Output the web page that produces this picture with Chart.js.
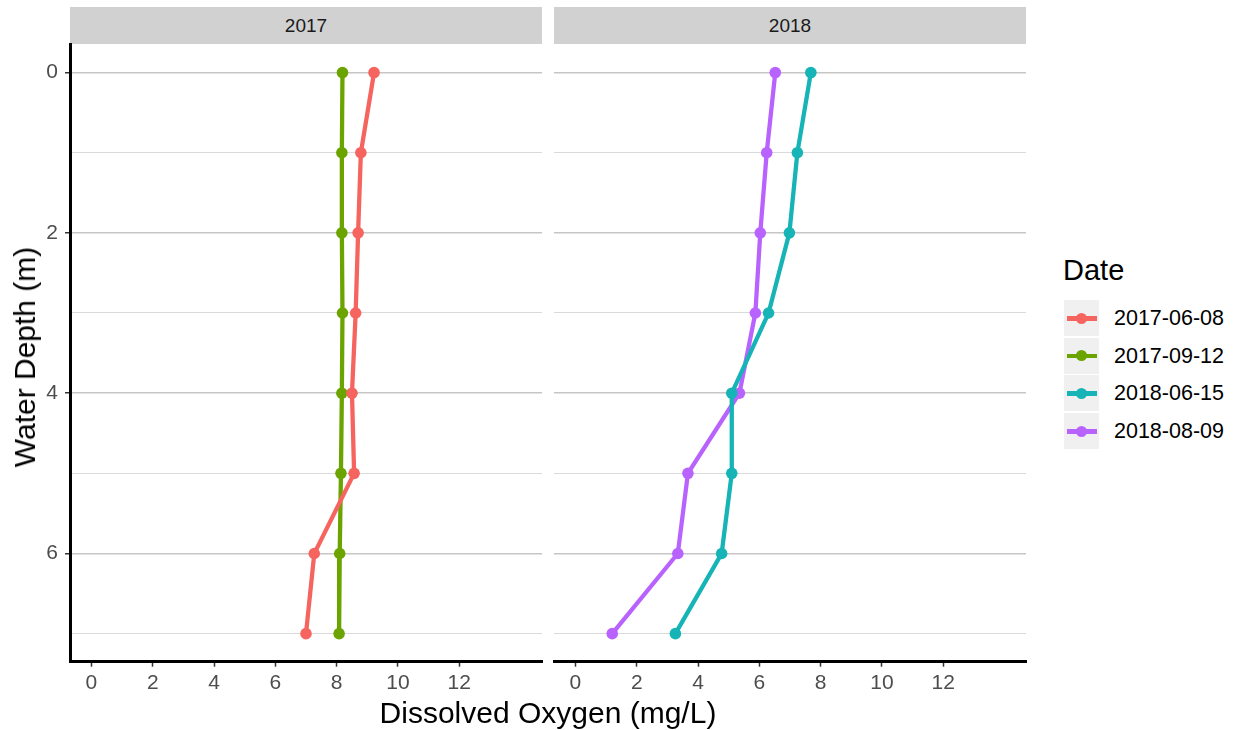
<!DOCTYPE html>
<html>
<head>
<meta charset="utf-8">
<script src="https://cdn.jsdelivr.net/npm/chart.js@4.4.1/dist/chart.umd.min.js"></script>
<style>
    body { margin: 0; background: #fff; font-family: "Liberation Sans", Arial, sans-serif; }
    #page { position: relative; width: 1239px; height: 730px; overflow: hidden; }
    canvas { position: absolute; top: 0; }
    .strip { position: absolute; top: 7px; height: 37px; background: #d1d1d1; color: #1a1a1a;
             font-size: 19px; line-height: 37px; text-align: center; }
    .titulo { position: absolute; color: #000; white-space: nowrap; }
    .caja { position: absolute; left: 1064px; width: 35px; height: 36px; background: #f0f0f0; }
    .caja .linea { position: absolute; left: 3px; right: 2px; top: 16px; height: 4.5px; }
    .caja .punto { position: absolute; left: 11.5px; top: 12.5px; width: 11px; height: 11px; border-radius: 50%; }
    .etiqueta { position: absolute; left: 1114px; font-size: 21.5px; line-height: 36px; color: #000; }
</style>
</head>
<body>
<div id="page">
    <div class="strip" style="left:70px; width:472px;">2017</div>
    <div class="strip" style="left:554px; width:472px;">2018</div>

    <canvas id="panel2017" width="548" height="730" style="left:0"></canvas>
    <canvas id="panel2018" width="490" height="730" style="left:548px"></canvas>

    <div class="titulo" style="left:548px; top:698px; font-size:30px; line-height:30px; transform:translateX(-50%);">Dissolved Oxygen (mg/L)</div>
    <div class="titulo" style="left:25px; top:357px; font-size:30px; line-height:30px; transform:translate(-50%,-50%) rotate(-90deg);">Water Depth (m)</div>

    <div class="titulo" style="left:1063px; top:256px; font-size:29px; line-height:29px;">Date</div>
    <div id="leyenda"></div>
</div>

<script>
// ============================
// DATOS
// ============================

const profundidades = [0, 1, 2, 3, 4, 5, 6, 7];

const fechas = ["2017-06-08", "2017-09-12", "2018-06-15", "2018-08-09"];
const colores = ["#f6645f", "#6ba400", "#16b4b7", "#b963fe"];

// oxígeno disuelto (mg/L) por profundidad
const od_2017_06_08 = [9.22, 8.79, 8.70, 8.62, 8.50, 8.57, 7.27, 7.00];
const od_2017_09_12 = [8.19, 8.17, 8.17, 8.19, 8.17, 8.14, 8.10, 8.08];
const od_2018_06_15 = [7.68, 7.24, 6.98, 6.30, 5.10, 5.10, 4.77, 3.26];
const od_2018_08_09 = [6.52, 6.24, 6.03, 5.87, 5.35, 3.67, 3.34, 1.20];

const ticksX = [0, 2, 4, 6, 8, 10, 12];
const ticksY = [0, 1, 2, 3, 4, 5, 6, 7];

const FUENTE = '"Liberation Sans", Arial, sans-serif';


// ============================
// GRÁFICAS
// ============================

function serie(valores, color) {
    return {
        data: profundidades.map((p, i) => ({ x: valores[i], y: p })),
        borderColor: color,
        backgroundColor: color,
        borderWidth: 4.3,
        pointRadius: 5.8,
        pointBorderWidth: 0,
        pointBackgroundColor: color,
        tension: 0,
        fill: false
    };
}

function esPar(ctx) {
    return ctx.tick && ctx.tick.value % 2 === 0;
}

function crearPanel(id, datasets, conEjeY, padIzq, padDer) {

    const ctx = document.getElementById(id).getContext("2d");

    return new Chart(ctx, {
        type: "line",
        data: { datasets: datasets },
        options: {
            responsive: false,
            animation: false,
            layout: { padding: { top: 44.5, right: padDer, left: padIzq, bottom: 0 } },
            plugins: {
                legend: { display: false },
                tooltip: { enabled: false }
            },
            scales: {
                x: {
                    type: "linear",
                    min: -0.7,
                    max: 14.7,
                    afterBuildTicks: s => { s.ticks = ticksX.map(v => ({ value: v })); },
                    afterFit: s => { s.height = 68.3; },
                    grid: {
                        drawOnChartArea: false,
                        tickLength: 5,
                        tickColor: "#333333",
                        tickWidth: 1.5
                    },
                    border: { color: "#000000", width: 3 },
                    ticks: {
                        color: "#4d4d4d",
                        font: { size: 21, family: FUENTE },
                        padding: 4,
                        autoSkip: false,
                        maxRotation: 0
                    }
                },
                y: {
                    type: "linear",
                    reverse: true,
                    min: -0.35,
                    max: 7.35,
                    afterBuildTicks: s => { s.ticks = ticksY.map(v => ({ value: v })); },
                    afterFit: s => { s.width = conEjeY ? 70 : 0; },
                    grid: {
                        color: c => esPar(c) ? "#c6c6c6" : "#dadada",
                        lineWidth: c => esPar(c) ? 1.5 : 1.1,
                        drawTicks: conEjeY,
                        tickLength: 5,
                        tickWidth: 1.5,
                        tickColor: c => esPar(c) ? "#333333" : "rgba(0,0,0,0)"
                    },
                    border: { display: conEjeY, color: "#000000", width: 3 },
                    ticks: {
                        display: conEjeY,
                        color: "#4d4d4d",
                        font: { size: 21, family: FUENTE },
                        padding: 7,
                        autoSkip: false,
                        callback: v => v % 2 === 0 ? v : ""
                    }
                }
            }
        }
    });
}

crearPanel("panel2017", [
    serie(od_2017_06_08, colores[0]),
    serie(od_2017_09_12, colores[1])
], true, 0, 6);

crearPanel("panel2018", [
    serie(od_2018_06_15, colores[2]),
    serie(od_2018_08_09, colores[3])
], false, 6, 12);


// ============================
// LEYENDA
// ============================

const leyenda = document.getElementById("leyenda");
const topesCaja = [300, 337.7, 375.4, 413.1];

leyenda.innerHTML = fechas.map((f, i) => `
    <div class="caja" style="top:${topesCaja[i]}px">
        <div class="linea" style="background:${colores[i]}"></div>
        <div class="punto" style="background:${colores[i]}"></div>
    </div>
    <div class="etiqueta" style="top:${topesCaja[i]}px">${f}</div>
`).join('');
</script>
</body>
</html>
